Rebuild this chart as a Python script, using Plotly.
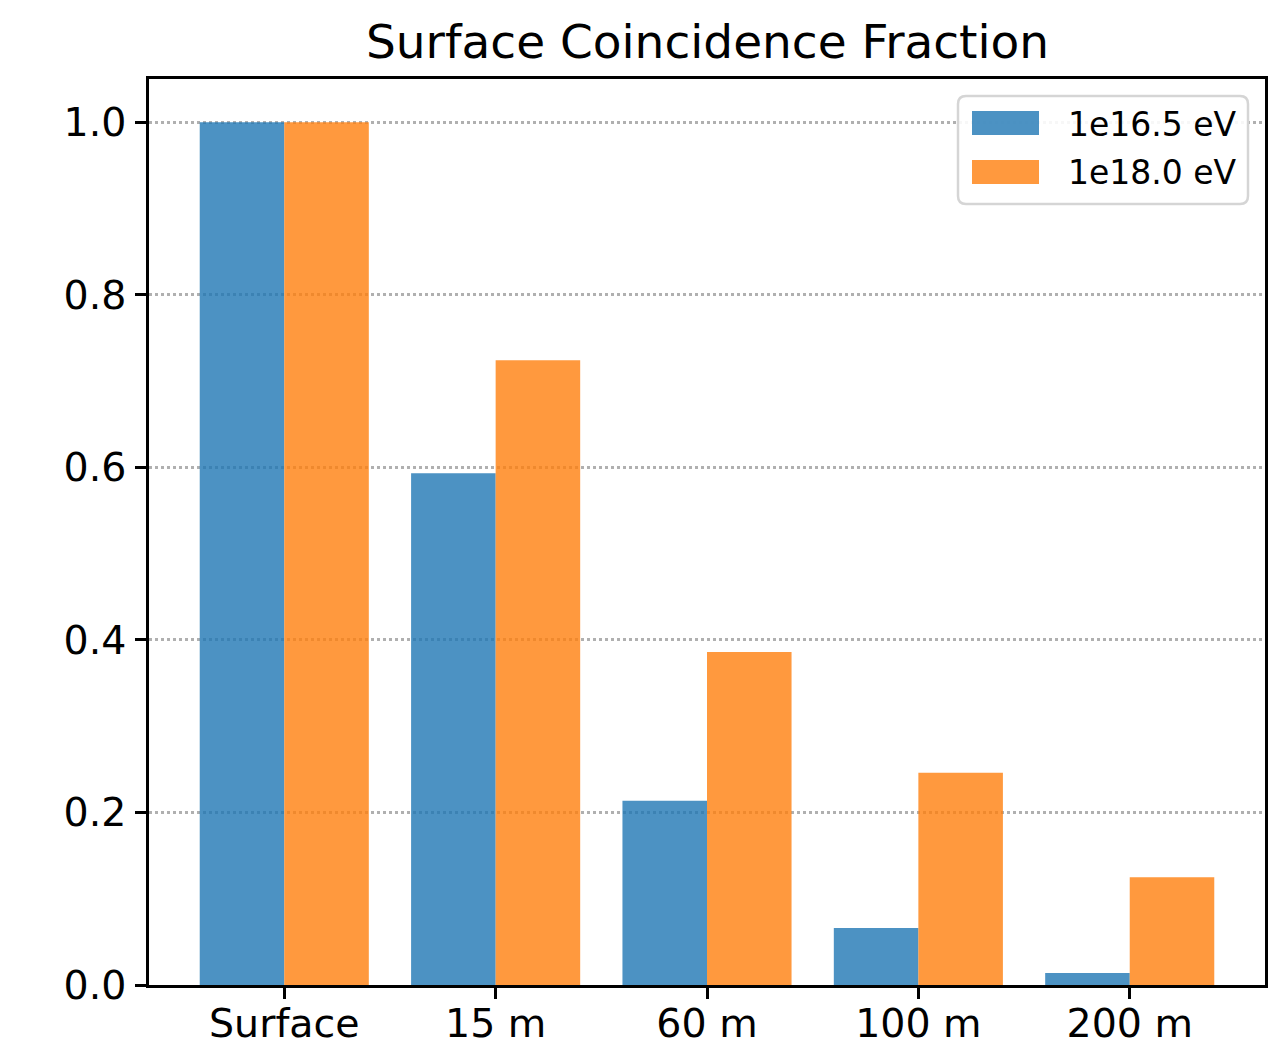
import plotly.graph_objects as go

categories = ["Surface", "15 m", "60 m", "100 m", "200 m"]
series_names = ["1e16.5 eV", "1e18.0 eV"]
values_165 = [1.0, 0.593, 0.2135, 0.066, 0.014]
values_180 = [1.0, 0.724, 0.386, 0.246, 0.125]
colors = ["rgba(31,119,180,0.8)", "rgba(255,127,14,0.8)"]
y_ticks = [0.0, 0.2, 0.4, 0.6, 0.8, 1.0]

W, H = 1276, 1044
L, R, T, B = 149, 1265, 79, 985
FONT = "DejaVu Sans"
TICK_SIZE = 39.5

fig = go.Figure()
for name, vals, col in zip(series_names, [values_165, values_180], colors):
    fig.add_trace(go.Bar(x=categories, y=vals, name=name,
                         marker=dict(color=col, line=dict(width=0)),
                         showlegend=False))

def px_x(p):
    return (p - L) / (R - L)

def px_y(p):
    return (B - p) / (B - T)

fig.update_layout(
    width=W, height=H,
    margin=dict(l=L, r=W - R, t=T, b=H - B, pad=0, autoexpand=False),
    paper_bgcolor="white", plot_bgcolor="white",
    barmode="group", bargap=0.2, bargroupgap=0.0,
    font=dict(family=FONT, color="black", size=TICK_SIZE),
)

fig.update_xaxes(
    range=[-0.64, 4.64], showgrid=False, zeroline=False, automargin=False,
    showline=True, mirror=True, linecolor="black", linewidth=2.5,
    ticks="outside", ticklen=11, tickwidth=2.5, tickcolor="black",
    ticklabelstandoff=-9,
    tickfont=dict(size=TICK_SIZE, family=FONT, color="black"),
)
fig.update_yaxes(
    range=[0, 1.05], tickvals=y_ticks, ticktext=[f"{v:.1f}" for v in y_ticks],
    showgrid=True, gridcolor="#b0b0b0", gridwidth=2.5, griddash="dot",
    zeroline=False, automargin=False,
    showline=True, mirror=True, linecolor="black", linewidth=2.5,
    ticks="outside", ticklen=11, tickwidth=2.5, tickcolor="black",
    ticklabelstandoff=1,
    tickfont=dict(size=TICK_SIZE, family=FONT, color="black"),
)

# Title
fig.add_annotation(text="Surface Coincidence Fraction", xref="paper", yref="paper",
                   x=0.5, y=1, xanchor="center", yanchor="bottom", yshift=8,
                   showarrow=False, font=dict(size=47, family=FONT, color="black"))

# Custom legend (matplotlib style)
lx0, lx1, ly0, ly1 = 958, 1248, 96, 204
rad = 8
def rounded_path(x0, y0, x1, y1, r):
    pts = [
        f"M {px_x(x0 + r)},{px_y(y0)}",
        f"L {px_x(x1 - r)},{px_y(y0)}",
        f"Q {px_x(x1)},{px_y(y0)} {px_x(x1)},{px_y(y0 + r)}",
        f"L {px_x(x1)},{px_y(y1 - r)}",
        f"Q {px_x(x1)},{px_y(y1)} {px_x(x1 - r)},{px_y(y1)}",
        f"L {px_x(x0 + r)},{px_y(y1)}",
        f"Q {px_x(x0)},{px_y(y1)} {px_x(x0)},{px_y(y1 - r)}",
        f"L {px_x(x0)},{px_y(y0 + r)}",
        f"Q {px_x(x0)},{px_y(y0)} {px_x(x0 + r)},{px_y(y0)}",
        "Z",
    ]
    return " ".join(pts)

fig.add_shape(type="path", xref="paper", yref="paper",
              path=rounded_path(lx0, ly0, lx1, ly1, rad),
              fillcolor="rgba(255,255,255,0.9)", line=dict(color="#d5d5d5", width=2.5),
              layer="above")
patch_rows = [(111, 135), (160, 184)]
for (py0, py1), name, col in zip(patch_rows, series_names, colors):
    fig.add_shape(type="rect", xref="paper", yref="paper",
                  x0=px_x(972), x1=px_x(1039), y0=px_y(py1), y1=px_y(py0),
                  fillcolor=col, line=dict(width=0), layer="above")
    fig.add_annotation(text=name, xref="paper", yref="paper",
                       x=px_x(1066), y=px_y((py0 + py1) / 2 + 1), xanchor="left", yanchor="middle",
                       showarrow=False, font=dict(size=33, family=FONT, color="black"))

fig.write_html("out.html")
